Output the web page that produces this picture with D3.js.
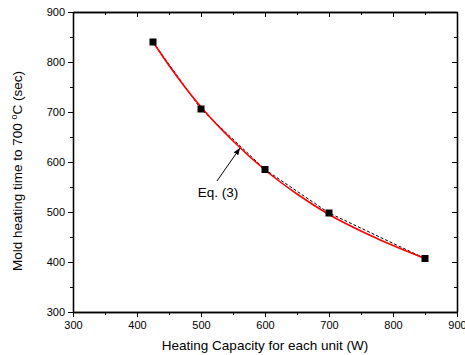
<!DOCTYPE html>
<html>
<head>
<meta charset="utf-8">
<script src="https://cdn.jsdelivr.net/npm/d3@7"></script>
<style>
  body { margin: 0; background: #fff; }
  text { font-family: Arial, "Liberation Sans", sans-serif; fill: #000; }
</style>
</head>
<body>
<div id="chart"></div>
<script>
// measured points
var capacity = [425, 500, 600, 700, 850];
var heatTime = [840, 706, 585, 498, 407];

// Eq. (3) curve
var fitCapacity = [425, 450, 500, 550, 600, 650, 700, 775, 850];
var fitTime     = [840, 793, 710, 642, 584, 536, 495, 447, 407];

var xTicks = [300, 400, 500, 600, 700, 800, 900];
var yTicks = [300, 400, 500, 600, 700, 800, 900];

var w = 465, h = 355;
var padL = 73, padR = 457, padT = 12, padB = 312;

var svg = d3.select('#chart').append('svg').attr('width', w).attr('height', h);

var xScale = d3.scaleLinear().domain([300, 900]).range([padL, padR]);
var yScale = d3.scaleLinear().domain([300, 900]).range([padB, padT]);

var minorX = d3.range(350, 900, 100);
var minorY = d3.range(350, 900, 100);

// bottom axis, ticks outward
svg.append('g').attr('transform', 'translate(0,' + padB + ')')
    .call(d3.axisBottom(xScale).tickValues(xTicks).tickSize(5).tickPadding(4).tickSizeOuter(0));
svg.append('g').attr('transform', 'translate(0,' + padB + ')')
    .call(d3.axisBottom(xScale).tickValues(minorX).tickSize(3).tickFormat('').tickSizeOuter(0));

// left axis, ticks outward
svg.append('g').attr('transform', 'translate(' + padL + ',0)')
    .call(d3.axisLeft(yScale).tickValues(yTicks).tickSize(5).tickPadding(3).tickSizeOuter(0));
svg.append('g').attr('transform', 'translate(' + padL + ',0)')
    .call(d3.axisLeft(yScale).tickValues(minorY).tickSize(3).tickFormat('').tickSizeOuter(0));

// top and right mirror axes, ticks inward
svg.append('g').attr('transform', 'translate(0,' + padT + ')')
    .call(d3.axisTop(xScale).tickValues(xTicks).tickSize(-5).tickFormat('').tickSizeOuter(0));
svg.append('g').attr('transform', 'translate(0,' + padT + ')')
    .call(d3.axisTop(xScale).tickValues(minorX).tickSize(-3).tickFormat('').tickSizeOuter(0));
svg.append('g').attr('transform', 'translate(' + padR + ',0)')
    .call(d3.axisRight(yScale).tickValues(yTicks).tickSize(-5).tickFormat('').tickSizeOuter(0));
svg.append('g').attr('transform', 'translate(' + padR + ',0)')
    .call(d3.axisRight(yScale).tickValues(minorY).tickSize(-3).tickFormat('').tickSizeOuter(0));

svg.selectAll('.domain').attr('stroke', '#000').attr('stroke-width', 1.3);
svg.selectAll('.tick line').attr('stroke', '#000').attr('stroke-width', 1);
svg.selectAll('.tick text').style('font-size', '11px').style('font-family', 'Arial, "Liberation Sans", sans-serif');

// dashed line through points
var pts = capacity.map(function(c, i){ return [c, heatTime[i]]; });
var line = d3.line().x(function(d){ return xScale(d[0]); }).y(function(d){ return yScale(d[1]); });
svg.append('path').datum(pts)
    .attr('d', line)
    .attr('fill', 'none').attr('stroke', '#000').attr('stroke-width', 1)
    .attr('stroke-dasharray', '3,2');

// fitted curve
var fitPts = fitCapacity.map(function(c, i){ return [c, fitTime[i]]; });
svg.append('path').datum(fitPts)
    .attr('d', line.curve(d3.curveMonotoneX))
    .attr('fill', 'none').attr('stroke', '#ff0000').attr('stroke-width', 1.6);

// markers
svg.selectAll('rect.pt').data(pts).enter().append('rect')
    .attr('class', 'pt')
    .attr('x', function(d){ return xScale(d[0]) - 3.5; })
    .attr('y', function(d){ return yScale(d[1]) - 3.5; })
    .attr('width', 7).attr('height', 7)
    .attr('fill', '#000');

// annotation arrow
svg.append('defs').append('marker')
    .attr('id', 'arr').attr('viewBox', '0 0 10 10').attr('refX', 10).attr('refY', 5)
    .attr('markerWidth', 7).attr('markerHeight', 7).attr('orient', 'auto')
    .append('path').attr('d', 'M0,1 L10,5 L0,9 Z').attr('fill', '#000');
svg.append('line')
    .attr('x1', 217).attr('y1', 181).attr('x2', 240).attr('y2', 148)
    .attr('stroke', '#000').attr('stroke-width', 1)
    .attr('marker-end', 'url(#arr)');
svg.append('text').attr('x', 218).attr('y', 197).attr('text-anchor', 'middle')
    .style('font-size', '13.5px').text('Eq. (3)');

// axis titles
svg.append('text').attr('x', (padL + padR) / 2).attr('y', 350).attr('text-anchor', 'middle')
    .style('font-size', '13.5px').text('Heating Capacity for each unit (W)');

var yt = svg.append('text').attr('transform', 'translate(22,171) rotate(-90)')
    .attr('text-anchor', 'middle').style('font-size', '13.5px');
yt.append('tspan').text('Mold heating time to 700 ');
yt.append('tspan').attr('dy', -5).style('font-size', '9px').text('o');
yt.append('tspan').attr('dy', 5).text('C (sec)');
</script>
</body>
</html>
